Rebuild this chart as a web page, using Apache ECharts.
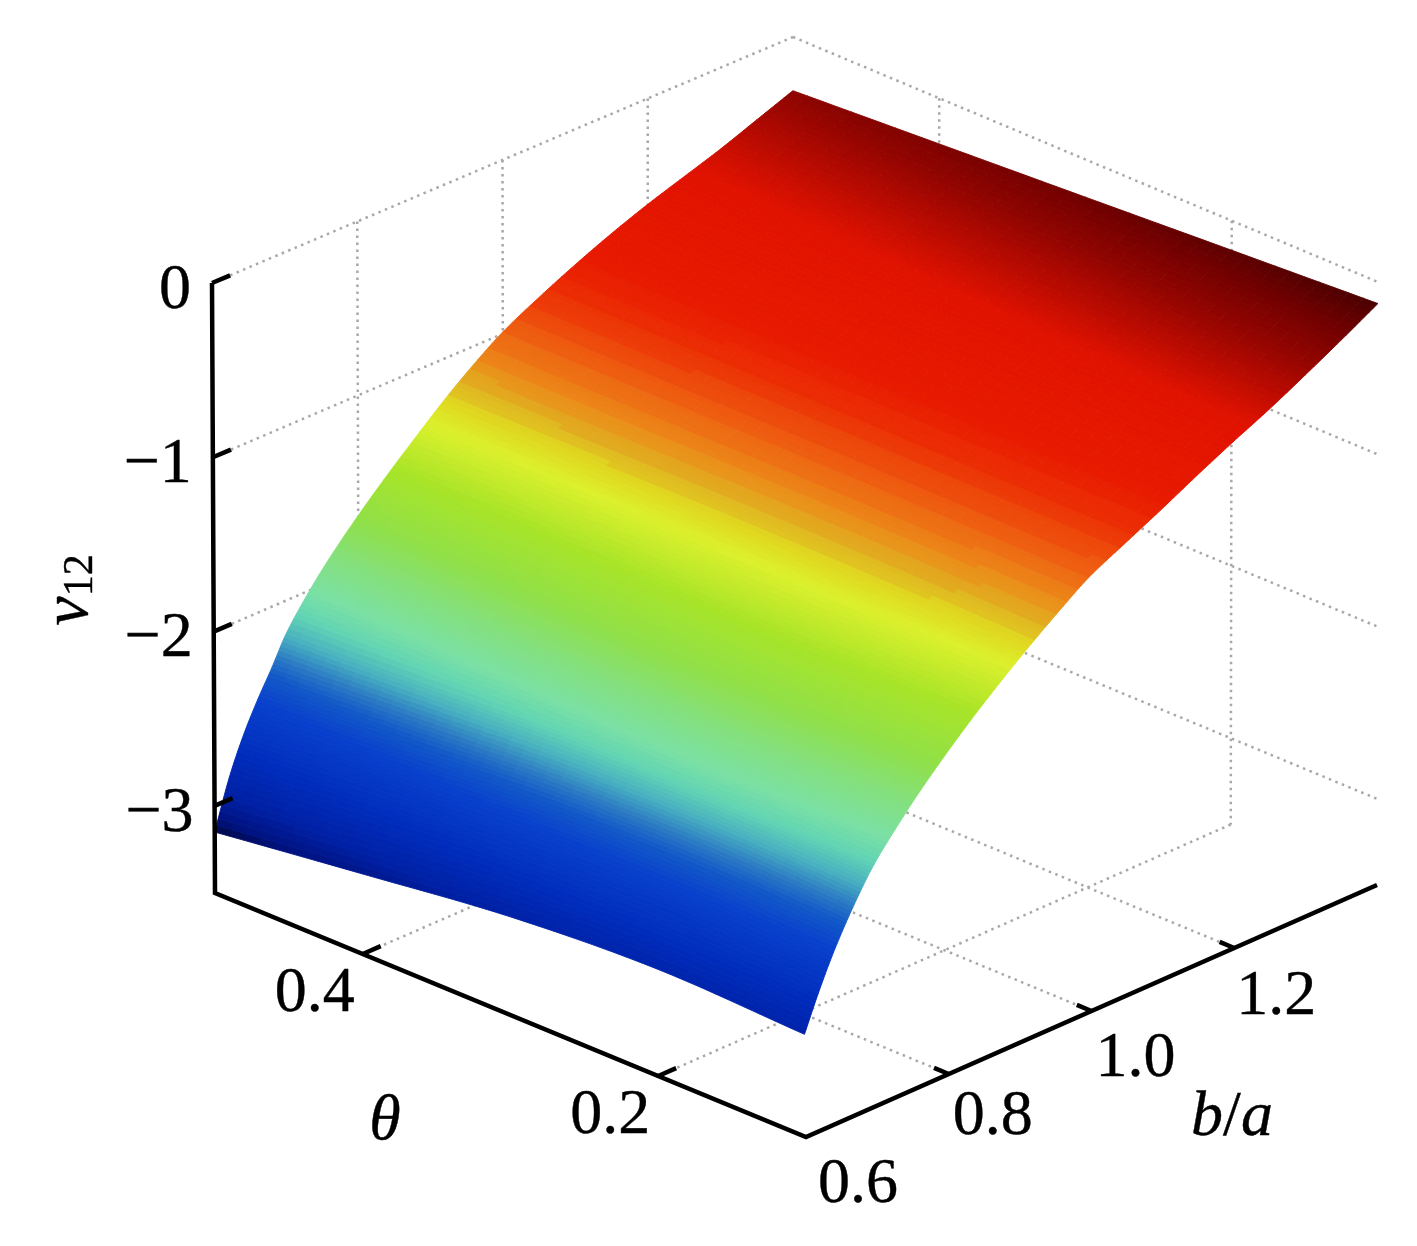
<!DOCTYPE html>
<html><head><meta charset="utf-8">
<style>html,body{margin:0;padding:0;background:#fff}#c{width:1417px;height:1246px}</style>
<script src="https://cdn.jsdelivr.net/npm/echarts@6/dist/echarts.min.js"></script>
</head><body><div id="c"></div>
<script>
// ---------- data ----------
const thetaValues = [0.1, 0.2, 0.3, 0.4, 0.5];
const ratioValues = [0.6,0.62,0.64,0.66,0.68,0.7,0.73,0.76,0.8,0.84,0.88,0.92,0.96,1.0,1.05,1.1,1.15,1.2,1.25,1.3,1.35,1.4];
const vAtTheta01 = [-2.91,-2.71,-2.53,-2.374,-2.234,-2.11,-1.962,-1.825,-1.661,-1.509,-1.369,-1.237,-1.113,-0.997,-0.89,-0.785,-0.675,-0.57,-0.47,-0.36,-0.245,-0.125];
const vAtTheta02 = [-2.885,-2.68,-2.495,-2.34,-2.203,-2.075,-1.93,-1.795,-1.638,-1.489,-1.352,-1.222,-1.10,-0.99,-0.888,-0.784,-0.679,-0.58,-0.488,-0.388,-0.281,-0.171];
const vAtTheta03 = [-2.935,-2.71,-2.52,-2.367,-2.227,-2.09,-1.939,-1.80,-1.64,-1.49,-1.353,-1.218,-1.097,-0.987,-0.885,-0.783,-0.683,-0.59,-0.505,-0.415,-0.318,-0.218];
const vAtTheta04 = [-3.04,-2.79,-2.595,-2.435,-2.29,-2.14,-1.977,-1.835,-1.668,-1.513,-1.367,-1.227,-1.102,-0.99,-0.883,-0.781,-0.686,-0.60,-0.523,-0.443,-0.354,-0.264];
const vAtTheta05 = [-3.15,-2.88,-2.67,-2.50,-2.35,-2.19,-2.015,-1.865,-1.69,-1.53,-1.38,-1.235,-1.105,-0.99,-0.88,-0.78,-0.69,-0.61,-0.54,-0.47,-0.39,-0.31];
const vRows = [vAtTheta01, vAtTheta02, vAtTheta03, vAtTheta04, vAtTheta05];

const thetaTicks = [0.2, 0.4];
const ratioTicks = [0.8, 1.0, 1.2];
const ratioTickLabels = ['0.6', '0.8', '1.0', '1.2'];
const thetaTickLabels = ['0.2', '0.4'];
const vTicks = [0, -1, -2, -3];
const vTickLabels = ['0', '\u22121', '\u22122', '\u22123'];

// colour ramp over v
const rampV = [-3.16,-3.08,-2.95,-2.75,-2.5,-2.38,-2.3,-2.2,-2.1,-2.0,-1.85,-1.7,-1.5,-1.32,-1.24,-1.17,-1.08,-0.97,-0.86,-0.76,-0.52,-0.42,-0.32,-0.22,-0.12];
const rampColor = ['#000638','#001280','#0020a4','#002cbc','#0840cc','#1258c8','#2a78c4','#48b0c0','#62d4b4','#7ae0a4','#84e07c','#90e048','#a8e428','#dcf02c','#e0d820','#e0b020','#ec8818','#ee5c10','#ec3004','#e81a00','#e01200','#b80a00','#900400','#700000','#480000'];

// ---------- projection: corners of the plot box on the page ----------
const box = {
  t1b0vB: [806,1137], t5b0vB: [215,893], t1b1vB: [1377,885], t5b1vB: [792,643],
  t1b0vT: [797,528],  t5b0vT: [212,283], t1b1vT: [1378,282], t5b1vT: [793,37]
};
const TMIN=0.1, TMAX=0.5, BMIN=0.6, BMAX=1.4, VMIN=-3.5, VMAX=0;
function lerp2(a,b,t){return [a[0]+(b[0]-a[0])*t, a[1]+(b[1]-a[1])*t];}
function project(theta, ratio, v){
  const t=(theta-TMIN)/(TMAX-TMIN), r=(ratio-BMIN)/(BMAX-BMIN), h=(v-VMIN)/(VMAX-VMIN);
  const bot=lerp2(lerp2(box.t1b0vB,box.t5b0vB,t),lerp2(box.t1b1vB,box.t5b1vB,t),r);
  const top=lerp2(lerp2(box.t1b0vT,box.t5b0vT,t),lerp2(box.t1b1vT,box.t5b1vT,t),r);
  return lerp2(bot,top,h);
}
// faint colour steps of the orange part of the surface
const BAND_FROM=-1.24, BAND_TO=-0.62, BAND_STEP=0.045, BAND_MIX=0.55;
function colorAt(v){
  if(v>BAND_FROM && v<BAND_TO){
    const stepped=BAND_FROM+Math.round((v-BAND_FROM)/BAND_STEP)*BAND_STEP;
    v=v+(stepped-v)*BAND_MIX;
  }
  if(v<=rampV[0]) return rampColor[0];
  for(let i=1;i<rampV.length;i++){
    if(v<=rampV[i]) return echarts.color.lerp((v-rampV[i-1])/(rampV[i]-rampV[i-1]),[rampColor[i-1],rampColor[i]]);
  }
  return rampColor[rampColor.length-1];
}
// smooth curve drawn through read values (drawing only)
function curve(xs,ys,x){
  let k=0; while(k<xs.length-2 && x>xs[k+1]) k++;
  const h=xs[k+1]-xs[k], s=(x-xs[k])/h;
  const m=i=>i===0?(ys[1]-ys[0])/(xs[1]-xs[0]):i===xs.length-1?(ys[i]-ys[i-1])/(xs[i]-xs[i-1]):(ys[i+1]-ys[i-1])/(xs[i+1]-xs[i-1]);
  return (2*s*s*s-3*s*s+1)*ys[k]+(s*s*s-2*s*s+s)*h*m(k)+(-2*s*s*s+3*s*s)*ys[k+1]+(s*s*s-s*s)*h*m(k+1);
}
function surfaceV(theta,ratio){
  return curve(thetaValues,vRows.map(row=>curve(ratioValues,row,ratio)),theta);
}

// ---------- surface cells ----------
const cells=[];
for(let i=0;i<thetaValues.length-1;i++) for(let j=0;j<ratioValues.length-1;j++) cells.push([i,j]);
const SUB_T=10, SUB_R=8;
function renderCell(params, api){
  const i=api.value(0), j=api.value(1);
  const t0=thetaValues[i], t1=thetaValues[i+1], r0=ratioValues[j], r1=ratioValues[j+1];
  const at=(u,w)=>{
    const th=t0+(t1-t0)*u, ra=r0+(r1-r0)*w;
    return [th,ra,surfaceV(th,ra)];
  };
  const children=[];
  for(let su=0;su<SUB_T;su++) for(let sw=0;sw<SUB_R;sw++){
    const q=[at(su/SUB_T,sw/SUB_R),at(su/SUB_T,(sw+1)/SUB_R),at((su+1)/SUB_T,(sw+1)/SUB_R),at((su+1)/SUB_T,sw/SUB_R)];
    const col=colorAt((q[0][2]+q[1][2]+q[2][2]+q[3][2])/4);
    children.push({type:'polygon',shape:{points:q.map(p=>api.coord(project(p[0],p[1],p[2])))},style:{fill:col,stroke:col,lineWidth:0.9}});
  }
  return {type:'group',children};
}

// ---------- helpers for straight line series ----------
const gridStyle={color:'#a8a8a8',width:2.5,type:[2.5,4.5]};
const axisStyle={color:'#000',width:4.5,join:'miter',cap:'butt'};
function lineSeries(pts,style,z){
  return {type:'line',data:pts,symbol:'none',silent:true,animation:false,lineStyle:style,z:z,clip:false};
}
const series=[];
vTicks.forEach(v=>{
  series.push(lineSeries([project(TMAX,BMIN+0.025,v),project(TMAX,BMAX,v)],gridStyle,1));
  series.push(lineSeries([project(TMAX,BMAX,v),project(TMIN,BMAX,v)],gridStyle,1));
});
ratioTicks.forEach(r=>{
  series.push(lineSeries([project(TMAX,r,VMAX),project(TMAX,r,VMIN)],gridStyle,1));
  series.push(lineSeries([project(TMAX,r,VMIN),project(TMIN+0.01,r,VMIN)],gridStyle,1));
});
thetaTicks.forEach(t=>{
  series.push(lineSeries([project(t,BMAX,VMAX),project(t,BMAX,VMIN)],gridStyle,1));
  series.push(lineSeries([project(t,BMAX,VMIN),project(t,BMIN+0.025,VMIN)],gridStyle,1));
});
series.push({type:'custom',data:cells,renderItem:renderCell,encode:{x:0,y:1},silent:true,animation:false,z:2,clip:false});
series.push(lineSeries([project(TMAX,BMIN,VMAX),project(TMAX,BMIN,VMIN),project(TMIN,BMIN,VMIN),project(TMIN,BMAX,VMIN)],axisStyle,5));
vTicks.forEach(v=>series.push(lineSeries([project(TMAX,BMIN,v),project(TMAX,BMIN+0.025,v)],axisStyle,5)));
thetaTicks.forEach(t=>series.push(lineSeries([project(t,BMIN,VMIN),project(t,BMIN+0.025,VMIN)],axisStyle,5)));
ratioTicks.forEach(r=>series.push(lineSeries([project(TMIN,r,VMIN),project(TMIN+0.01,r,VMIN)],axisStyle,5)));

// ---------- text ----------
const FONT='"Liberation Serif","Times New Roman",serif';
const INK={color:'#000',textBorderColor:'#000',textBorderWidth:0.4};
function textSeries(items,extra){
  return {type:'scatter',symbolSize:0,silent:true,animation:false,z:6,clip:false,itemStyle:{opacity:1},
    data:items.map(it=>({value:it.at,label:{formatter:it.text}})),
    label:Object.assign({show:true,position:'inside',opacity:1,fontFamily:FONT,fontSize:64,align:'center',verticalAlign:'middle'},INK,extra||{})};
}
function shift(p,dx,dy){return [p[0]+dx,p[1]+dy];}
series.push(textSeries(vTicks.map((v,i)=>({at:shift(project(TMAX,BMIN,v),-21,8),text:vTickLabels[i]})),{align:'right'}));
series.push(textSeries(thetaTicks.map((t,i)=>({at:shift(project(t,BMIN,VMIN),-48,40),text:thetaTickLabels[i]}))));
const labelShift=[[52,48],[44,43],[44,48],[42,49]];
series.push(textSeries([BMIN].concat(ratioTicks).map((r,i)=>({at:shift(project(TMIN,r,VMIN),labelShift[i][0],labelShift[i][1]),text:ratioTickLabels[i]}))));
series.push(textSeries([
  {at:[385,1122],text:'{i|\u03b8}'},
  {at:[1232,1118],text:'{i|b}{n|/}{i|a}'}
],{rich:{i:Object.assign({fontFamily:FONT,fontStyle:'italic',fontSize:64},INK),n:Object.assign({fontFamily:FONT,fontSize:64},INK)}}));
series.push(textSeries([{at:[70,590],text:'{i|v}{s|12}'}],{rotate:90,rich:{
  i:Object.assign({fontFamily:FONT,fontStyle:'italic',fontSize:66,lineHeight:64},INK),
  s:Object.assign({fontFamily:FONT,fontSize:42,lineHeight:64,verticalAlign:'bottom'},INK)}}));

const chart=echarts.init(document.getElementById('c'),null,{renderer:'canvas'});
chart.setOption({
  animation:false,backgroundColor:'#fff',
  grid:{left:0,right:0,top:0,bottom:0},
  xAxis:{type:'value',min:0,max:1417,show:false},
  yAxis:{type:'value',min:0,max:1246,inverse:true,show:false},
  series:series
});
</script></body></html>
